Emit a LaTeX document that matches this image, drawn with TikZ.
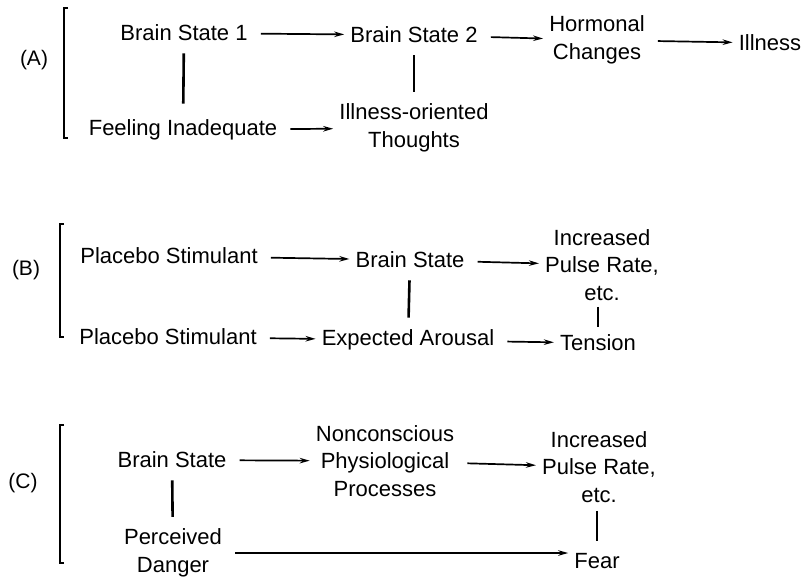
\documentclass[tikz,border=0pt]{standalone}
\usepackage{fontspec}
\setmainfont{Liberation Sans}
\usetikzlibrary{arrows.meta}

\begin{document}
\begin{tikzpicture}[
    x=1pt, y=1pt,
    box/.style={inner sep=4pt, align=center, font=\fontsize{22}{27.5}\selectfont},
    tag/.style={inner sep=2pt, font=\fontsize{21}{25}\selectfont},
    arrow/.style={-{Stealth[length=10pt,width=5.5pt]}, line width=1.7pt, shorten <=9pt, shorten >=2pt},
    link/.style={line width=2.6pt, shorten <=8pt, shorten >=8pt},
    bracket/.style={line width=2.6pt}
]
\useasboundingbox (0,0) rectangle (810,-576);

% Panel A
\node[tag] (labA) at (34,-60) {(A)};
\draw[bracket] (68,-8) -- (64,-8) -- (64,-138) -- (68,-138);
\node[box] (bs1) at (184,-33) {Brain State 1};
\node[box] (bs2) at (414,-35) {Brain State 2};
\node[box] (hc) at (597,-40) {Hormonal\\Changes};
\node[box] (ill) at (770,-43) {Illness};
\node[box] (fi) at (183,-130) {Feeling Inadequate};
\node[box] (iot) at (414,-128) {Illness-oriented\\Thoughts};

\draw[arrow] (bs1) -- (bs2);
\draw[arrow] (bs2) -- (hc);
\draw[arrow] (hc) -- (ill);
\draw[arrow] (fi) -- (iot);
\draw[link, shorten >=12pt] (bs1) -- (fi);
\draw[link] (bs2) -- (iot);

% Panel B
\node[tag] (labB) at (26,-270) {(B)};
\draw[bracket] (64,-224) -- (60,-224) -- (60,-337) -- (64,-337);
\node[box] (ps1) at (169,-256) {Placebo Stimulant};
\node[box] (bsB) at (410,-260) {Brain State};
\node[box] (iprB) at (602,-265) {Increased\\Pulse Rate,\\etc.};
\node[box] (ps2) at (168,-337) {Placebo Stimulant};
\node[box] (ea) at (408,-340) {Expected Arousal};
\node[box] (ten) at (598,-343) {Tension};

\draw[arrow] (ps1) -- (bsB);
\draw[arrow] (bsB) -- (iprB);
\draw[arrow] (ps2) -- (ea);
\draw[arrow] (ea) -- (ten);
\draw[link] (bsB) -- (ea);
\draw[link, shorten <=2pt, shorten >=4pt] (iprB.south -| ten) -- (ten);

% Panel C
\node[tag] (labC) at (23,-483) {(C)};
\draw[bracket] (64,-425) -- (60,-425) -- (60,-563) -- (64,-563);
\node[box] (bsC) at (172,-460) {Brain State};
\node[box] (ncp) at (385,-461) {Nonconscious\\Physiological\\Processes};
\node[box] (iprC) at (599,-467) {Increased\\Pulse Rate,\\etc.};
\node[box] (pd) at (173,-553) {Perceived\\Danger};
\node[box] (fear) at (597,-561) {Fear};

\draw[arrow] (bsC) -- (ncp);
\draw[arrow] (ncp) -- (iprC);
\draw[arrow] (pd.east) -- (pd.east -| fear.west);
\draw[link] (bsC) -- (pd);
\draw[link, shorten <=4pt] (iprC.south -| fear) -- (fear);

\end{tikzpicture}
\end{document}
